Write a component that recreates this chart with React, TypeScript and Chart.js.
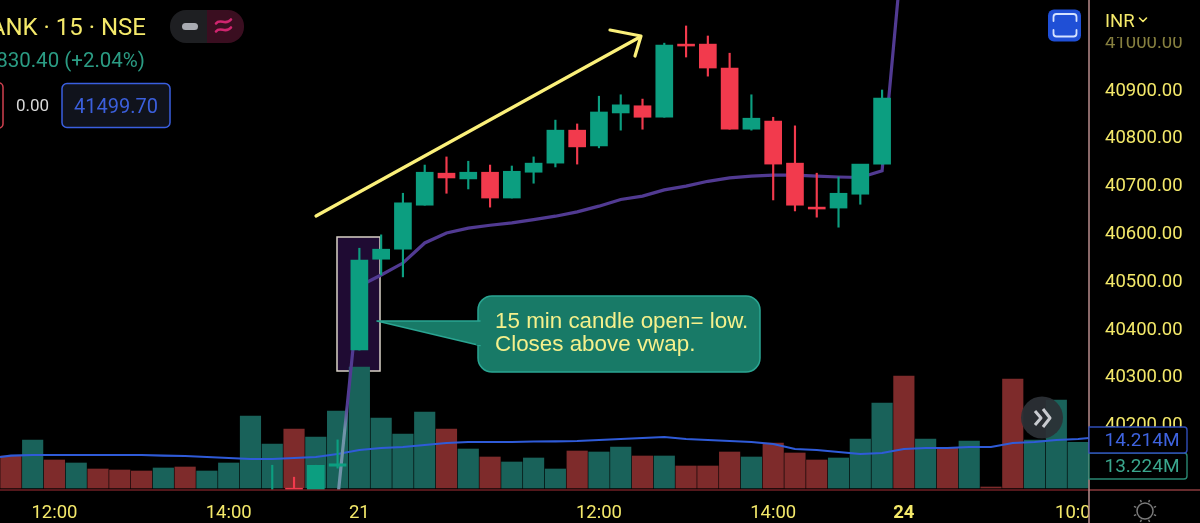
import React, { useEffect, useRef } from "react";
import { Chart, registerables } from "chart.js";

Chart.register(...registerables);

const xLabels = ["", "", "12:00", "", "", "", "", "", "", "", "14:00", "", "", "", "", "", "21", "", "", "", "", "", "", "", "", "", "", "12:00", "", "", "", "", "", "", "", "14:00", "", "", "", "", "", "24", "", "", "", "", "", "", "", "10:00"];
const priceTicks = [41000, 40900, 40800, 40700, 40600, 40500, 40400, 40300, 40200];

const N = null;
const opens: (number | null)[] = [N, N, N, N, N, N, N, N, N, N, N, N, 40000, 40067, 40000, 40113, 40356, 40546, 40567, 40659, 40726, 40714, 40728, 40674, 40728, 40747, 40816, 40783, 40852, 40867, 40843, 40996, 40996, 40946, 40818, 40835, 40747, 40655, 40653, 40682, 40745, N, N, N, N, N, N, N, N, N];
const highs: (number | null)[] = [N, N, N, N, N, N, N, N, N, N, N, N, 40115, 40090, 40115, 40168, 40569, 40597, 40684, 40743, 40760, 40751, 40743, 40741, 40760, 40837, 40829, 40887, 40890, 40881, 40998, 41034, 41013, 40977, 40890, 40843, 40825, 40726, 40718, 40718, 40900, N, N, N, N, N, N, N, N, N];
const lows: (number | null)[] = [N, N, N, N, N, N, N, N, N, N, N, N, 40000, 40000, 40000, 40109, 40356, 40513, 40509, 40659, 40684, 40693, 40655, 40674, 40705, 40739, 40745, 40779, 40816, 40818, 40843, 40969, 40929, 40818, 40816, 40670, 40647, 40634, 40613, 40661, 40745, N, N, N, N, N, N, N, N, N];
const closes: (number | null)[] = [N, N, N, N, N, N, N, N, N, N, N, N, 40030, 40000, 40115, 40118, 40544, 40567, 40664, 40728, 40716, 40728, 40674, 40730, 40747, 40816, 40781, 40854, 40869, 40843, 40994, 40992, 40946, 40818, 40841, 40745, 40659, 40651, 40684, 40745, 40883, N, N, N, N, N, N, N, N, N];

const volumes = [9.28, 13.92, 8.12, 7.25, 5.51, 5.22, 4.93, 5.8, 6.09, 4.93, 7.25, 20.88, 12.76, 17.11, 14.79, 22.33, 35.09, 20.3, 15.66, 22.04, 17.11, 11.31, 8.99, 7.54, 8.7, 5.51, 10.73, 10.44, 11.89, 9.28, 9.28, 6.38, 6.38, 10.44, 8.99, 13.05, 10.15, 8.12, 8.7, 14.21, 24.65, 32.48, 14.21, 11.6, 13.63, 0.29, 31.61, 13.92, 25.52, 13.224];
const volumeDir = ["R", "G", "R", "G", "R", "R", "R", "G", "R", "G", "G", "G", "G", "R", "G", "G", "G", "G", "G", "G", "R", "G", "R", "G", "G", "G", "R", "G", "G", "R", "G", "R", "R", "R", "G", "R", "R", "R", "G", "G", "G", "R", "G", "R", "G", "R", "R", "G", "G", "G"];

const volumeAvgX = [-0.5, 0, 1, 2, 3, 4, 5, 6, 7, 8, 9, 10, 11, 12, 13, 14, 15, 16, 17, 18, 19, 20, 21, 22, 23, 24, 25, 26, 27, 28, 29, 30, 31, 32, 33, 34, 35, 36, 37, 38, 39, 40, 41, 42, 43, 44, 45, 46, 47, 48, 49, 49.5];
const volumeAvg = [8.99, 9.4, 9.57, 9.57, 9.57, 9.57, 9.57, 9.57, 9.4, 9.28, 8.99, 8.7, 8.41, 8.41, 8.7, 8.99, 9.86, 11.02, 11.6, 11.89, 12.47, 13.05, 13.34, 13.34, 13.34, 13.49, 13.55, 13.63, 13.92, 14.21, 14.5, 14.79, 14.21, 13.92, 13.63, 13.34, 12.76, 11.31, 11.02, 10.44, 9.86, 10.15, 11.31, 11.6, 11.6, 11.89, 11.89, 13.05, 13.34, 13.92, 14.21, 14.5];

const vwap: (number | null)[] = [N, N, N, N, N, N, N, N, N, N, N, N, N, N, N, 40042, 40490, 40513, 40538, 40580, 40601, 40611, 40617, 40622, 40629, 40636, 40645, 40657, 40671, 40678, 40691, 40699, 40709, 40716, 40720, 40722, 40722, 40720, 40718, 40717, 40731, 41226, N, N, N, N, N, N, N, N];

const UP = "#0c9e80";
const DOWN = "#f23a4d";
const VOL_UP = "#19625a";
const VOL_DOWN = "#7e2b2b";
const YELLOW = "#f4e96a";
const FONT = "Roboto";

const noPadding = (s: any) => {
  s.paddingTop = 0;
  s.paddingBottom = 0;
  s.paddingLeft = 0;
  s.paddingRight = 0;
};

const overlay = {
  id: "overlay",
  beforeDatasetsDraw(chart: any) {
    const c = chart.ctx;
    c.save();
    c.fillStyle = "#1f0b33";
    c.fillRect(337, 237, 43, 134);
    c.strokeStyle = "#d9d2c6";
    c.lineWidth = 1.5;
    c.strokeRect(337, 237, 43, 134);
    c.restore();
  },
  afterDraw(chart: any) {
    const c = chart.ctx;
    c.save();
    // pane edges
    c.fillStyle = "#000";
    c.fillRect(1089, 0, 111, 37);
    c.fillRect(1089, 491, 111, 32);
    c.strokeStyle = "#6f1f25";
    c.lineWidth = 1.5;
    c.beginPath(); c.moveTo(0, 490); c.lineTo(1089, 490); c.stroke();
    c.strokeStyle = "#8a3a3c";
    c.beginPath(); c.moveTo(1089, 490); c.lineTo(1200, 490); c.stroke();
    c.strokeStyle = "#b88c8c";
    c.beginPath(); c.moveTo(1089, 0); c.lineTo(1089, 523); c.stroke();

    // arrow
    c.strokeStyle = "#fbf07a";
    c.lineWidth = 3.2;
    c.lineCap = "round";
    c.lineJoin = "round";
    c.beginPath(); c.moveTo(316, 216); c.lineTo(640, 37); c.stroke();
    c.beginPath(); c.moveTo(610, 30); c.lineTo(641, 36); c.lineTo(635, 56); c.stroke();

    // callout
    c.beginPath();
    c.roundRect(478, 296, 282, 76, 14);
    c.fillStyle = "#187a67";
    c.strokeStyle = "#2aa592";
    c.lineWidth = 1.5;
    c.fill(); c.stroke();
    c.beginPath();
    c.moveTo(480, 321); c.lineTo(377, 321); c.lineTo(480, 345.5);
    c.fill(); c.stroke();
    c.fillStyle = "#187a67";
    c.fillRect(476, 322, 5, 23);
    c.fillStyle = "#f5f08c";
    c.font = "22.4px 'Liberation Sans'";
    c.textAlign = "left";
    c.textBaseline = "alphabetic";
    c.fillText("15 min candle open= low.", 495, 328);
    c.fillText("Closes above vwap.", 495, 351);

    // header
    c.fillStyle = YELLOW;
    c.font = `24px ${FONT}`;
    c.textAlign = "right";
    c.fillText("ANK · 15 · NSE", 146, 35);
    c.fillStyle = "#2b9c84";
    c.font = `20.5px ${FONT}`;
    c.fillText("830.40 (+2.04%)", 145, 67);

    c.strokeStyle = "#d0404f";
    c.lineWidth = 1.5;
    c.beginPath(); c.roundRect(-10, 83, 13, 45, 4); c.stroke();
    c.fillStyle = "#d8d8d8";
    c.font = `17px ${FONT}`;
    c.textAlign = "left";
    c.fillText("0.00", 16, 111);
    c.beginPath(); c.roundRect(62, 83.5, 108, 44, 5);
    c.fillStyle = "#10131c"; c.fill();
    c.strokeStyle = "#3a5fe0"; c.stroke();
    c.fillStyle = "#3b5fdc";
    c.font = `20px ${FONT}`;
    c.textAlign = "center";
    c.fillText("41499.70", 116, 113);

    // pill buttons
    c.save();
    c.beginPath(); c.roundRect(170, 10, 74, 33, 16); c.clip();
    c.fillStyle = "#1e1f22"; c.fillRect(170, 10, 37, 33);
    c.fillStyle = "#3a0e20"; c.fillRect(207, 10, 37, 33);
    c.restore();
    c.fillStyle = "#a9abb2";
    c.beginPath(); c.roundRect(182, 23, 16, 7, 3.5); c.fill();
    c.strokeStyle = "#d0256f";
    c.lineWidth = 2.6;
    [22, 30].forEach((y) => {
      c.beginPath(); c.moveTo(216, y + 1.5);
      c.bezierCurveTo(220, y - 4, 226, y + 4, 231, y - 2.5);
      c.stroke();
    });

    // fullscreen button
    c.fillStyle = "#1f4fd6";
    c.beginPath(); c.roundRect(1048, 9.5, 33, 32, 6); c.fill();
    c.strokeStyle = "#d5e2ff";
    c.lineWidth = 1.8;
    c.beginPath(); c.moveTo(1053.5, 21); c.lineTo(1053.5, 17); c.arcTo(1053.5, 14, 1057, 14, 3); c.lineTo(1073, 14); c.arcTo(1076.5, 14, 1076.5, 17, 3); c.lineTo(1076.5, 21); c.stroke();
    c.beginPath(); c.moveTo(1053.5, 30); c.lineTo(1053.5, 33.5); c.arcTo(1053.5, 36.5, 1057, 36.5, 3); c.lineTo(1073, 36.5); c.arcTo(1076.5, 36.5, 1076.5, 33.5, 3); c.lineTo(1076.5, 30); c.stroke();

    // currency
    c.fillStyle = YELLOW;
    c.font = `18.5px ${FONT}`;
    c.textAlign = "left";
    c.fillText("INR", 1105, 27);
    c.strokeStyle = YELLOW;
    c.lineWidth = 1.6;
    c.beginPath(); c.moveTo(1139.5, 18); c.lineTo(1143, 21.5); c.lineTo(1146.5, 18); c.stroke();

    // scroll button
    c.fillStyle = "rgba(44,48,54,0.93)";
    c.beginPath(); c.arc(1042, 417.5, 21, 0, Math.PI * 2); c.fill();
    c.strokeStyle = "#c9cbd0";
    c.lineWidth = 3;
    c.lineCap = "butt";
    c.beginPath(); c.moveTo(1035, 411); c.lineTo(1041, 418); c.lineTo(1035, 425); c.stroke();
    c.beginPath(); c.moveTo(1043, 409); c.lineTo(1050, 418); c.lineTo(1043, 427); c.stroke();

    // last value boxes
    c.lineWidth = 1.4;
    c.font = `19px ${FONT}`;
    c.textAlign = "center";
    c.textBaseline = "middle";
    c.beginPath(); c.roundRect(1089, 453, 98, 26, [0, 3, 3, 0]);
    c.fillStyle = "#000"; c.fill(); c.strokeStyle = "#2a8873"; c.stroke();
    c.fillStyle = "#3aa68d"; c.fillText("13.224M", 1142, 467);
    c.beginPath(); c.roundRect(1089, 427, 98, 26, [0, 3, 3, 0]);
    c.fillStyle = "#000"; c.fill(); c.strokeStyle = "#2f4db8"; c.stroke();
    c.fillStyle = "#3e63df"; c.fillText("14.214M", 1142, 441);

    // theme icon
    c.strokeStyle = "#7a7a7a";
    c.lineWidth = 1.5;
    c.beginPath(); c.arc(1145, 511, 8, 0, Math.PI * 2); c.stroke();
    for (let i = 0; i < 8; i++) {
      const a = (i * Math.PI) / 4 + Math.PI / 8;
      c.beginPath();
      c.moveTo(1145 + Math.cos(a) * 9.5, 511 + Math.sin(a) * 9.5);
      c.lineTo(1145 + Math.cos(a) * 12, 511 + Math.sin(a) * 12);
      c.stroke();
    }
    c.restore();
  },
};

export default function App() {
  const ref = useRef<HTMLCanvasElement>(null);
  useEffect(() => {
    document.body.style.margin = "0";
    document.body.style.background = "#000";
    const canvas = ref.current!;
    const grad = canvas.getContext("2d")!.createLinearGradient(0, 0, 0, 523);
    grad.addColorStop(0, "#513a92");
    grad.addColorStop(405 / 523, "#513a92");
    grad.addColorStop(430 / 523, "#6f93a8");
    grad.addColorStop(1, "#6f93a8");

    const candleColors = opens.map((o, i) => (o !== null && (closes[i] as number) >= o ? UP : DOWN));
    const chart = new Chart(canvas, {
      type: "bar",
      data: {
        labels: xLabels,
        datasets: [
          {
            type: "bar",
            data: volumes,
            yAxisID: "yV",
            xAxisID: "x",
            grouped: false,
            barThickness: 20.5,
            order: 5,
            backgroundColor: volumes.map((_, i) => (volumeDir[i] === "G" ? VOL_UP : VOL_DOWN)),
          },
          {
            type: "line",
            data: volumeAvg.map((y, i) => ({ x: volumeAvgX[i], y })),
            yAxisID: "yV",
            xAxisID: "xL",
            borderColor: "#2f5bd8",
            borderWidth: 2.2,
            pointRadius: 0,
            order: 4,
          },
          {
            type: "line",
            data: vwap,
            yAxisID: "y",
            xAxisID: "x",
            borderColor: grad,
            borderWidth: 3.2,
            pointRadius: 0,
            spanGaps: false,
            order: 3,
          },
          {
            type: "bar",
            data: lows.map((l, i) => (l === null ? null : [l, highs[i]])),
            yAxisID: "y",
            xAxisID: "x",
            grouped: false,
            barThickness: 1.5,
            order: 2,
            backgroundColor: candleColors,
          },
          {
            type: "bar",
            data: opens.map((o, i) => (o === null ? null : [o, closes[i]])),
            yAxisID: "y",
            xAxisID: "x",
            grouped: false,
            barThickness: 17,
            order: 1,
            backgroundColor: candleColors,
          },
        ] as any,
      },
      options: {
        animation: false,
        responsive: false,
        layout: { padding: 0 },
        plugins: { legend: { display: false }, tooltip: { enabled: false } },
        scales: {
          x: {
            type: "category",
            offset: true,
            grid: { display: false, drawTicks: false },
            border: { display: false },
            ticks: {
              autoSkip: false,
              maxRotation: 0,
              padding: 12,
              color: YELLOW,
              font: (ctx: any) => ({ family: FONT, size: 18.5, weight: xLabels[ctx.index] === "24" ? "bold" : "normal" }),
            },
            afterFit(s: any) { s.height = 33; noPadding(s); },
          },
          xL: {
            type: "linear",
            position: "top",
            offset: false,
            min: -0.5,
            max: 49.5,
            grid: { display: false, drawTicks: false },
            border: { display: false },
            ticks: { display: false },
            afterFit(s: any) { s.height = 0; noPadding(s); },
          },
          y: {
            type: "linear",
            position: "right",
            min: 40063.2,
            max: 41088.3,
            grid: { display: false, drawTicks: false },
            border: { display: false },
            afterBuildTicks(s: any) { s.ticks = priceTicks.map((value) => ({ value })); },
            afterFit(s: any) { s.width = 111; noPadding(s); },
            ticks: {
              padding: 16,
              labelOffset: 1,
              color: (ctx: any) => (ctx.tick && ctx.tick.value === 41000 ? "#87803f" : YELLOW),
              font: { family: FONT, size: 18.5 },
              callback: (v: any) => Number(v).toFixed(2),
            },
          },
          yV: {
            type: "linear",
            position: "left",
            min: -0.58,
            max: 141.52,
            grid: { display: false, drawTicks: false },
            border: { display: false },
            ticks: { display: false },
            afterFit(s: any) { s.width = 0; noPadding(s); },
          },
        },
      } as any,
      plugins: [overlay],
    });
    return () => chart.destroy();
  }, []);
  return (
    <div style={{ position: "fixed", inset: 0, background: "#000" }}>
      <canvas ref={ref} width={1200} height={523} style={{ display: "block" }} />
    </div>
  );
}
